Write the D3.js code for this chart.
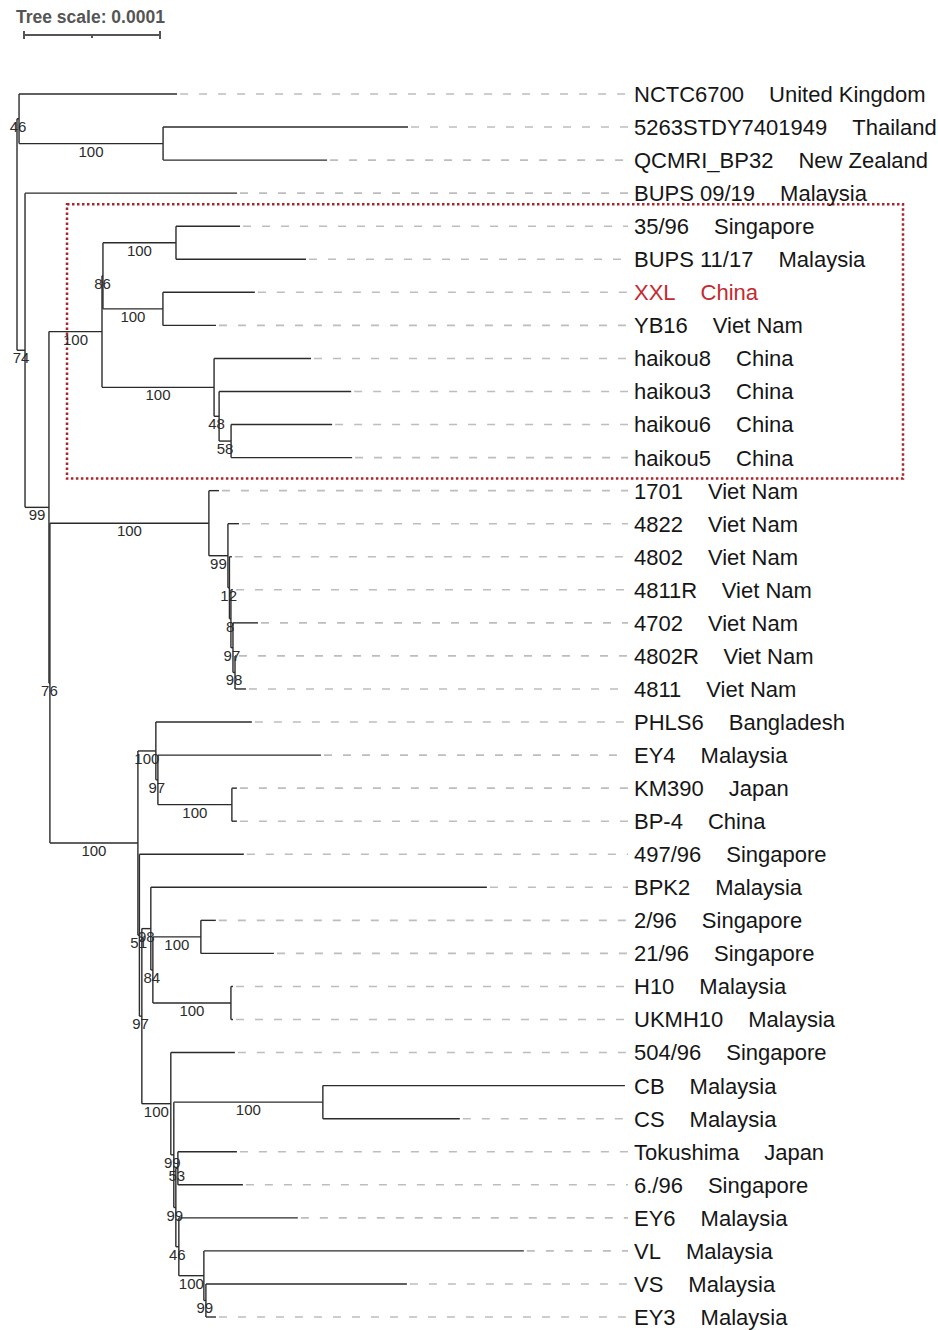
<!DOCTYPE html>
<html>
<head>
<meta charset="utf-8">
<script src="https://cdn.jsdelivr.net/npm/d3@7"></script>
<style>
  body { margin: 0; background: #fff; }
</style>
</head>
<body>
<svg id="chart" width="938" height="1330"></svg>
<script>
// leaves, top to bottom
const leafNames = [
  'NCTC6700', '5263STDY7401949', 'QCMRI_BP32', 'BUPS 09/19', '35/96', 'BUPS 11/17',
  'XXL', 'YB16', 'haikou8', 'haikou3', 'haikou6', 'haikou5',
  '1701', '4822', '4802', '4811R', '4702', '4802R', '4811',
  'PHLS6', 'EY4', 'KM390', 'BP-4', '497/96', 'BPK2', '2/96', '21/96',
  'H10', 'UKMH10', '504/96', 'CB', 'CS', 'Tokushima', '6./96', 'EY6',
  'VL', 'VS', 'EY3',
];
const leafCountries = [
  'United Kingdom', 'Thailand', 'New Zealand', 'Malaysia', 'Singapore', 'Malaysia',
  'China', 'Viet Nam', 'China', 'China', 'China', 'China',
  'Viet Nam', 'Viet Nam', 'Viet Nam', 'Viet Nam', 'Viet Nam', 'Viet Nam', 'Viet Nam',
  'Bangladesh', 'Malaysia', 'Japan', 'China', 'Singapore', 'Malaysia', 'Singapore', 'Singapore',
  'Malaysia', 'Malaysia', 'Singapore', 'Malaysia', 'Malaysia', 'Japan', 'Singapore', 'Malaysia',
  'Malaysia', 'Malaysia', 'Malaysia',
];
const leafParents = [
  'n46', 'n100a', 'n100a', 'n74', 'n100b', 'n100b',
  'n100c', 'n100c', 'n100d', 'n48', 'n58', 'n58',
  'nViet', 'n99v', 'n12', 'n8', 'n97v', 'n98v', 'n98v',
  'n100e', 'n97e', 'n100f', 'n100f', 'n51', 'n98', 'n100h', 'n100h',
  'n100i', 'n100i', 'nZ', 'nCB', 'nCB', 'n53', 'n53', 'n46b',
  'n100g', 'n99c', 'n99c',
];
// branch lengths in units of 1e-6
const leafBranchLengths = [
  116.2, 180.1, 120.6, 155.9, 47.1, 95.6,
  67.6, 39.0, 71.3, 97.1, 74.3, 89.0,
  7.4, 8.1, 1.8, 1.5, 18.4, 0.7, 8.1,
  70.6, 119.9, 3.7, 3.7, 76.8, 247.1, 11.0, 53.7,
  1.5, 1.5, 47.1, 222.1, 100.7, 43.4, 47.8, 87.5,
  235.3, 147.8, 7.4,
];

// internal nodes
const nodeIds = [
  'root', 'n46', 'n100a', 'n74', 'n99', 'nBox', 'n86', 'n100b', 'n100c', 'n100d',
  'n48', 'n58', 'n76', 'nViet', 'n99v', 'n12', 'n8', 'n97v', 'n98v', 'nLow',
  'n100e', 'n97e', 'n100f', 'n51', 'n97y', 'n98', 'n84', 'n100h', 'n100i', 'nZ',
  'n99z', 'nCB', 'n99b', 'n53', 'n46b', 'n100g', 'n99c',
];
const nodeParents = [
  '', 'root', 'n46', 'root', 'n74', 'n99', 'nBox', 'n86', 'n86', 'nBox',
  'n100d', 'n48', 'n99', 'n76', 'nViet', 'n99v', 'n12', 'n8', 'n97v', 'n76',
  'nLow', 'n100e', 'n97e', 'nLow', 'n51', 'n97y', 'n98', 'n84', 'n84', 'n97y',
  'nZ', 'n99z', 'n99z', 'n99b', 'n99b', 'n46b', 'n100g',
];
const nodeBranchLengths = [
  0, 1.5, 105.9, 5.9, 17.6, 39.0, 0.7, 53.7, 44.1, 82.4,
  3.7, 8.8, 0.7, 116.9, 14.0, 1.1, 1.1, 1.5, 1.5, 64.7,
  13.2, 1.5, 54.4, 1.1, 1.8, 6.6, 1.5, 35.3, 57.4, 21.3,
  2.2, 109.6, 1.5, 1.5, 2.2, 18.4, 1.5,
];
const bootstrap = [
  null, 46, 100, 74, 99, 100, 86, 100, 100, 100,
  48, 58, 76, 100, 99, 12, 8, 97, 98, 100,
  100, 97, 100, 51, 97, 98, 84, 100, 100, 100,
  99, 100, 99, 53, 46, 100, 99,
];

const highlightLeaf = 'XXL';
const boxedClade = 'nBox';
const scaleValue = 100; // 0.0001

const svg = d3.select('#chart');

const rows = nodeIds.map((id, i) => ({
  id, parent: nodeParents[i] || null, len: nodeBranchLengths[i], boot: bootstrap[i], leaf: false,
})).concat(leafNames.map((id, i) => ({
  id, parent: leafParents[i], len: leafBranchLengths[i], country: leafCountries[i], leaf: true, order: i,
})));

const root = d3.stratify().id((d) => d.id).parentId((d) => d.parent)(rows);
root.eachAfter((n) => {
  n.order = n.children ? d3.min(n.children, (c) => c.order) : n.data.order;
});
root.sort((a, b) => a.order - b.order);

const x = d3.scaleLinear().domain([0, 100]).range([17, 153]);
const y = d3.scalePoint().domain(leafNames).range([94, 1317]);

root.eachBefore((n) => {
  n.dist = n.parent ? n.parent.dist + n.data.len : 0;
});
root.eachAfter((n) => {
  n.py = n.children
    ? (n.children[0].py + n.children[n.children.length - 1].py) / 2
    : y(n.id);
});

const textX = 634;
const dashEnd = 628;

// highlight box around the clade
const clade = root.descendants().find((n) => n.id === boxedClade);
const cladeLeaves = clade.leaves();
svg.append('rect')
  .attr('x', 67)
  .attr('y', cladeLeaves[0].py - 22)
  .attr('width', 903 - 67)
  .attr('height', cladeLeaves[cladeLeaves.length - 1].py - cladeLeaves[0].py + 43)
  .attr('fill', 'none')
  .attr('stroke', '#a8262c')
  .attr('stroke-width', 2.5)
  .attr('stroke-dasharray', '2.5,2.5');

// dashed leaders
const leaves = root.leaves();
svg.append('g')
  .selectAll('line')
  .data(leaves.filter((d) => x(d.dist) < dashEnd - 4))
  .join('line')
  .attr('x1', (d) => x(d.dist) + 3)
  .attr('x2', dashEnd)
  .attr('y1', (d) => d.py)
  .attr('y2', (d) => d.py)
  .attr('stroke', '#bdbdbd')
  .attr('stroke-width', 1.6)
  .attr('stroke-dasharray', '8,11');

// branches
const branches = svg.append('g')
  .attr('stroke', '#2b2b2b')
  .attr('stroke-width', 1.4)
  .attr('fill', 'none');
root.descendants().forEach((n) => {
  if (n.parent) {
    branches.append('line')
      .attr('x1', x(n.parent.dist))
      .attr('x2', x(n.dist))
      .attr('y1', n.py)
      .attr('y2', n.py);
  }
  if (n.children) {
    branches.append('line')
      .attr('x1', x(n.dist))
      .attr('x2', x(n.dist))
      .attr('y1', n.children[0].py)
      .attr('y2', n.children[n.children.length - 1].py);
  }
});

// bootstrap values
svg.append('g')
  .selectAll('text')
  .data(root.descendants().filter((n) => n.parent && n.data.boot != null))
  .join('text')
  .attr('x', (n) => (x(n.parent.dist) + x(n.dist)) / 2)
  .attr('y', (n) => n.py + 13)
  .attr('text-anchor', 'middle')
  .attr('font-family', '"Liberation Sans", Arial, sans-serif')
  .attr('font-size', 15)
  .attr('fill', '#2b2b2b')
  .text((n) => n.data.boot);

// leaf labels
const labels = svg.append('g')
  .selectAll('text')
  .data(leaves)
  .join('text')
  .attr('x', textX)
  .attr('y', (d) => d.py)
  .attr('dy', '0.36em')
  .attr('font-family', '"Liberation Sans", Arial, sans-serif')
  .attr('font-size', 22)
  .attr('fill', (d) => (d.id === highlightLeaf ? '#c42a30' : '#161616'));
labels.append('tspan').text((d) => d.id);
labels.append('tspan').attr('dx', 25).text((d) => d.data.country);

// tree scale
svg.append('text')
  .attr('x', 16)
  .attr('y', 23)
  .attr('font-family', '"Liberation Sans", Arial, sans-serif')
  .attr('font-weight', 'bold')
  .attr('font-size', 17.5)
  .attr('fill', '#555')
  .text('Tree scale: 0.0001');

const barX0 = 24;
const barLen = x(scaleValue) - x(0);
const bar = svg.append('g').attr('stroke', '#555').attr('stroke-width', 2);
bar.append('line').attr('x1', barX0).attr('x2', barX0 + barLen).attr('y1', 35).attr('y2', 35);
bar.append('line').attr('x1', barX0).attr('x2', barX0).attr('y1', 31).attr('y2', 39);
bar.append('line').attr('x1', barX0 + barLen).attr('x2', barX0 + barLen).attr('y1', 31).attr('y2', 39);
bar.append('line').attr('x1', barX0 + barLen / 2).attr('x2', barX0 + barLen / 2).attr('y1', 35).attr('y2', 38);
</script>
</body>
</html>
